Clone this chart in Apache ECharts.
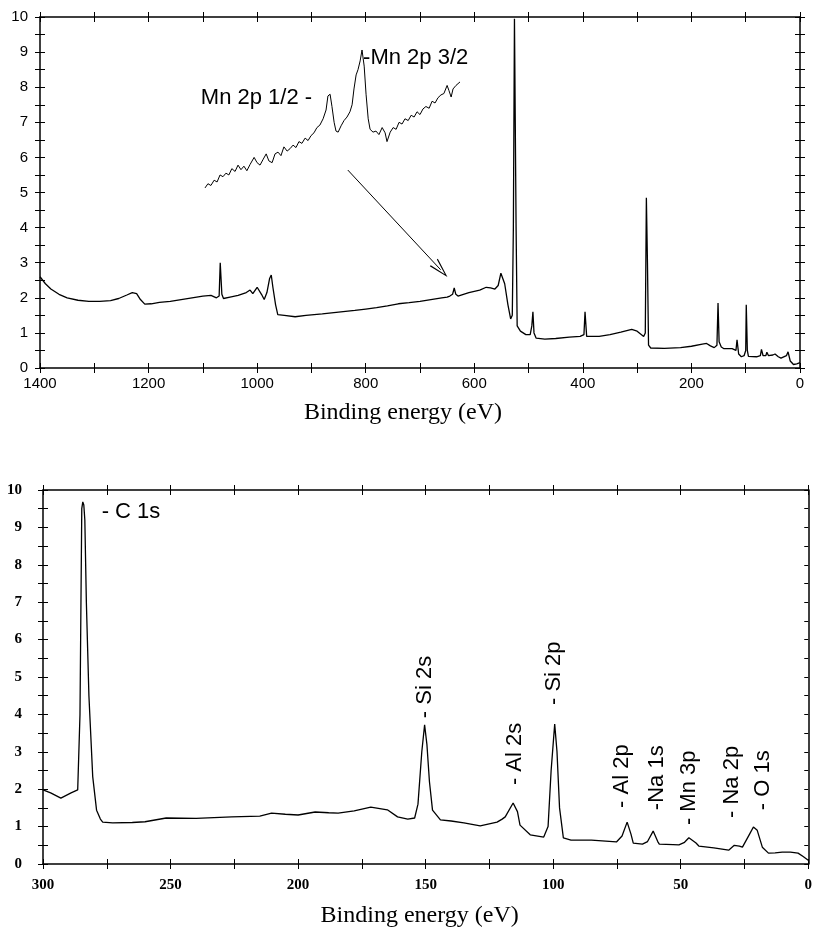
<!DOCTYPE html>
<html>
<head>
<meta charset="utf-8">
<script src="https://cdn.jsdelivr.net/npm/echarts@6/dist/echarts.min.js"></script>
<style>html,body{margin:0;padding:0;background:#fff;}#c{width:815px;height:931px;}</style>
</head>
<body>
<div id="c"></div>
<script>
// ---- Survey spectrum (top) ----
const topEnergy = [1400,1390,1380,1365,1350,1330,1310,1290,1270,1255,1240,1230,1222,1215,1207,1195,1180,1160,1140,1120,1100,1085,1075,1070,1068,1065,1062,1050,1035,1020,1013,1008,1000,997,992,987,982,977,974,971,966,962,950,930,910,880,850,820,800,780,760,740,720,700,680,660,650,645,640,637,634,630,610,590,578,570,562,556,551,548,544,538,533,530,528,526,523,521,515,505,497,494,492,490,486,470,450,425,405,398,396,393,390,370,350,330,310,300,292,288,285,283,281,279,275,250,220,200,180,172,165,158,153,151,149,145,140,125,118,116,113,108,103,100,99,97,95,80,73,71,68,63,61,58,50,46,40,35,25,22,18,12,6,0];
const topCounts = [2.6,2.4,2.25,2.1,2.0,1.93,1.9,1.9,1.92,1.98,2.08,2.15,2.12,1.95,1.82,1.83,1.87,1.9,1.95,2.0,2.05,2.07,2.0,2.05,3.0,2.1,1.98,2.02,2.07,2.15,2.22,2.12,2.3,2.32,2.1,1.95,2.15,2.55,2.65,2.3,1.8,1.52,1.5,1.46,1.5,1.54,1.59,1.64,1.68,1.72,1.77,1.83,1.86,1.9,1.95,2.0,2.02,2.05,2.1,2.28,2.1,2.05,2.15,2.22,2.3,2.28,2.25,2.35,2.7,2.74,2.4,1.8,1.4,1.5,4.0,9.95,4.0,1.2,1.05,0.95,0.95,1.2,1.6,1.0,0.85,0.82,0.84,0.88,0.9,0.95,1.6,0.9,0.85,0.9,0.95,1.02,1.1,1.05,0.95,0.9,1.0,4.85,3.0,0.65,0.57,0.56,0.58,0.62,0.68,0.7,0.63,0.58,0.65,1.85,0.75,0.6,0.55,0.55,0.5,0.8,0.4,0.32,0.35,0.5,1.8,0.5,0.33,0.32,0.35,0.53,0.35,0.35,0.45,0.35,0.37,0.4,0.32,0.28,0.35,0.46,0.2,0.1,0.12,0.15];

// ---- Inset: Mn 2p region ----
const insetEnergy = [700,698.9,697.8,696.6,695.5,694.4,693.3,692.2,691.1,690,688.8,687.7,686.6,685.5,684.4,683.2,681.7,680.6,679.5,678.3,677.2,676.2,675,673.9,672.8,671.7,670.6,669.4,668.3,667.2,666.1,665,663.9,662.7,661.6,660.5,659.4,658.3,657.2,656,654.9,654.2,653.4,652.7,651.9,651.2,650.4,649.3,648.2,647.1,646,645.2,644.5,643.7,643,642.2,641.5,640.7,640,639.2,638.5,637.4,636.3,635.2,634,632.9,632.2,631,629.9,628.8,627.7,626.6,625.5,624.3,623.2,622.1,621,619.9,618.8,617.7,616.5,615.4,614.3,613.2,612.1,611,609.8,609.1,608.3,607.6,606.5,605];
const insetCounts = [5.13,5.25,5.2,5.35,5.3,5.5,5.45,5.55,5.5,5.68,5.6,5.78,5.65,5.75,5.62,5.8,6.0,5.85,5.78,5.95,6.1,5.9,5.85,6.1,6.15,6.05,6.3,6.18,6.25,6.35,6.28,6.45,6.4,6.55,6.48,6.62,6.7,6.85,6.92,7.1,7.35,7.75,7.8,7.45,7.0,6.75,6.72,6.9,7.05,7.15,7.3,7.5,7.95,8.35,8.5,8.75,9.06,8.6,7.8,7.1,6.8,6.72,6.75,6.65,6.85,6.7,6.45,6.72,6.85,6.8,7.0,6.95,7.1,7.05,7.2,7.15,7.3,7.22,7.38,7.45,7.4,7.6,7.55,7.7,7.78,7.82,8.05,7.9,7.72,7.95,8.05,8.15];
const insetLabels = ['Mn 2p 1/2 -','-Mn 2p 3/2'];
const insetLabelEnergy = [660.1,641.1];
const insetLabelLevel = [7.69,8.83];
const insetLabelAlign = ['right','left'];

// ---- Low binding energy region (bottom) ----
const bottomEnergy = [300,297,293,289,286.4,285.5,284.8,284.4,284,283.6,283,282,280.5,279,277.5,276.6,272.7,265,260,251.7,240,226,215,210.4,205,200,193.3,188,184.3,178,171.5,165,161,157,154.3,153,151.5,150.4,149.5,148.5,147.3,144.2,140,135,128.6,122,120,118.8,115.7,114,113,109,103.7,102,100.8,99.4,98.5,97.5,96,93,85,75.2,73,71,69.5,68.6,65,63,60.8,59,58.4,53,50.7,48.5,46.8,44,42.9,37,31.2,29,28.5,27,25.8,23,21.5,20,18,15.6,13,10.2,7,4,2,0];
const bottomCounts = [1.98,1.9,1.76,1.9,1.98,4.0,9.5,9.68,9.6,9.2,7.0,4.5,2.33,1.44,1.2,1.12,1.1,1.11,1.13,1.23,1.22,1.26,1.28,1.36,1.33,1.31,1.39,1.37,1.36,1.42,1.52,1.45,1.26,1.2,1.23,1.6,3.0,3.72,3.2,2.2,1.44,1.18,1.15,1.1,1.02,1.12,1.2,1.26,1.63,1.4,1.04,0.78,0.72,1.0,2.5,3.74,3.0,1.5,0.7,0.64,0.64,0.59,0.75,1.12,0.8,0.56,0.53,0.6,0.88,0.6,0.53,0.52,0.51,0.58,0.7,0.56,0.48,0.43,0.37,0.5,0.55,0.48,0.45,0.8,0.99,0.9,0.45,0.29,0.3,0.32,0.32,0.29,0.2,0.1];
const peakLabels = ['- Si 2s','- Si 2p','- Al 2s','- Al 2p','-Na 1s','- Mn 3p','- Na 2p','- O 1s'];
const peakLabelEnergy = [150.4,99.7,114.9,72.9,59.2,46.8,30.0,17.9];
const peakLabelLevel = [3.9,4.25,2.11,1.5,1.44,1.04,1.23,1.44];
const c1sLabel = '- C 1s';
const c1sLabelEnergy = 277.0;
const c1sLabelLevel = 9.41;

// ---- Tick labels ----
const topXTickLabels = [1400,1200,1000,800,600,400,200,0];
const bottomXTickLabels = [300,250,200,150,100,50,0];
const yTickLabels = [0,1,2,3,4,5,6,7,8,9,10];
const axisTitle = 'Binding energy (eV)';

const zip = (a, b) => a.map((x, i) => [x, b[i]]);
const BLACK = '#000';

function frame(gridIndex, pos, inside, o) {
  const ax = {
    type: 'value', gridIndex, position: pos,
    min: o.min, max: o.max, interval: o.interval, inverse: !!o.inverse,
    axisLine: { show: o.line !== false, onZero: false, lineStyle: { color: BLACK, width: 1.5 } },
    axisTick: { show: o.tick !== false, inside, length: o.tickLen || 5, lineStyle: { color: BLACK, width: 1 } },
    axisLabel: { show: false },
    splitLine: { show: false }
  };
  if (o.label) ax.axisLabel = o.label;
  if (o.name) Object.assign(ax, o.name);
  return ax;
}

const topLabelStyle = { fontFamily: 'Liberation Sans', fontSize: 15, color: BLACK };
const botLabelStyle = { fontFamily: 'Liberation Serif', fontWeight: 'bold', fontSize: 15, color: BLACK };
const annStyle = { fontFamily: 'Liberation Sans', fontSize: 22, color: BLACK, textBorderWidth: 0, textBorderColor: 'transparent', opacity: 1 };

const topX = { min: 0, max: 1400, interval: 100, inverse: true };
const topY = { min: 0, max: 10, interval: 0.5 };
const botX = { min: 0, max: 300, interval: 25, inverse: true };
const botY = { min: 0, max: 10, interval: 0.5 };

const xAxes = [
  frame(0, 'bottom', false, Object.assign({}, topX, {
    label: Object.assign({ show: true, margin: 8, formatter: v => topXTickLabels.includes(v) ? String(v) : '' }, topLabelStyle),
    name: { name: axisTitle, nameLocation: 'middle', nameGap: 33,
      nameTextStyle: { fontFamily: 'Liberation Serif', fontSize: 24, color: BLACK, padding: [0, 34, 0, 0] } }
  })),
  frame(0, 'bottom', true, Object.assign({}, topX, { line: false })),
  frame(0, 'top', false, Object.assign({}, topX)),
  frame(0, 'top', true, Object.assign({}, topX, { line: false })),
  { type: 'value', gridIndex: 1, min: 605, max: 700, inverse: true, show: false, splitLine: { show: false } },
  frame(2, 'bottom', false, Object.assign({}, botX, {
    label: Object.assign({ show: true, margin: 14, formatter: v => bottomXTickLabels.includes(v) ? String(v) : '' }, botLabelStyle),
    name: { name: axisTitle, nameLocation: 'middle', nameGap: 40,
      nameTextStyle: { fontFamily: 'Liberation Serif', fontSize: 24, color: BLACK, padding: [0, 12, 0, 0] } }
  })),
  frame(2, 'bottom', true, Object.assign({}, botX, { line: false })),
  frame(2, 'top', false, Object.assign({}, botX)),
  frame(2, 'top', true, Object.assign({}, botX, { line: false }))
];

const yAxes = [
  frame(0, 'left', false, Object.assign({}, topY, {
    label: Object.assign({ show: true, margin: 12, formatter: v => yTickLabels.includes(v) ? String(v) : '' }, topLabelStyle)
  })),
  frame(0, 'left', true, Object.assign({}, topY, { line: false })),
  frame(0, 'right', false, Object.assign({}, topY)),
  frame(0, 'right', true, Object.assign({}, topY, { line: false })),
  { type: 'value', gridIndex: 1, min: 0, max: 10, show: false, splitLine: { show: false } },
  frame(2, 'left', false, Object.assign({}, botY, {
    label: Object.assign({ show: true, margin: 21, formatter: v => yTickLabels.includes(v) ? String(v) : '' }, botLabelStyle)
  })),
  frame(2, 'left', true, Object.assign({}, botY, { line: false })),
  frame(2, 'right', true, Object.assign({}, botY, { tickLen: 4 })),
  frame(2, 'right', true, Object.assign({}, botY, { line: false, tick: false }))
];

const lineBase = { type: 'line', showSymbol: false, symbol: 'none', animation: false, silent: true,
  lineStyle: { color: BLACK, width: 1.3 } };

const option = {
  backgroundColor: '#fff',
  animation: false,
  grid: [
    { left: 40, right: 15, top: 17, bottom: 563 },
    { left: 205, right: 355, top: 17, bottom: 563 },
    { left: 43, right: 2, top: 490, bottom: 67 }
  ],
  xAxis: xAxes,
  yAxis: yAxes,
  series: [
    Object.assign({}, lineBase, {
      xAxisIndex: 0, yAxisIndex: 0, data: zip(topEnergy, topCounts),
      markLine: {
        silent: true, animation: false,
        symbol: ['none', 'path://M0,18 L5,0 L10,18 L8.8,18 L5,3.5 L1.2,18 Z'],
        symbolSize: [11, 20],
        lineStyle: { color: BLACK, width: 1, type: 'solid' },
        label: { show: false },
        data: [[{ coord: [833, 5.64] }, { coord: [662, 2.8] }]]
      }
    }),
    Object.assign({}, lineBase, {
      xAxisIndex: 4, yAxisIndex: 4, data: zip(insetEnergy, insetCounts), lineStyle: { color: BLACK, width: 1 }
    }),
    {
      type: 'scatter', xAxisIndex: 4, yAxisIndex: 4, symbolSize: 1, silent: true, animation: false,
      itemStyle: { color: 'rgba(0,0,0,0)' },
      data: insetLabels.map((t, i) => ({
        value: [insetLabelEnergy[i], insetLabelLevel[i]], name: t,
        label: Object.assign({ show: true, position: 'inside', align: insetLabelAlign[i], verticalAlign: 'middle',
          formatter: t }, annStyle)
      }))
    },
    Object.assign({}, lineBase, {
      xAxisIndex: 5, yAxisIndex: 5, data: zip(bottomEnergy, bottomCounts)
    }),
    {
      type: 'scatter', xAxisIndex: 5, yAxisIndex: 5, symbolSize: 1, silent: true, animation: false,
      itemStyle: { color: 'rgba(0,0,0,0)' },
      data: peakLabels.map((t, i) => ({
        value: [peakLabelEnergy[i], peakLabelLevel[i]], name: t,
        label: Object.assign({ show: true, position: 'inside', align: 'left', verticalAlign: 'middle', rotate: 90,
          formatter: t }, annStyle)
      })).concat([{
        value: [c1sLabelEnergy, c1sLabelLevel], name: c1sLabel,
        label: Object.assign({ show: true, position: 'inside', align: 'left', verticalAlign: 'middle',
          formatter: c1sLabel }, annStyle)
      }])
    }
  ]
};

const chart = echarts.init(document.getElementById('c'), null, { renderer: 'canvas' });
chart.setOption(option);
</script>
</body>
</html>
